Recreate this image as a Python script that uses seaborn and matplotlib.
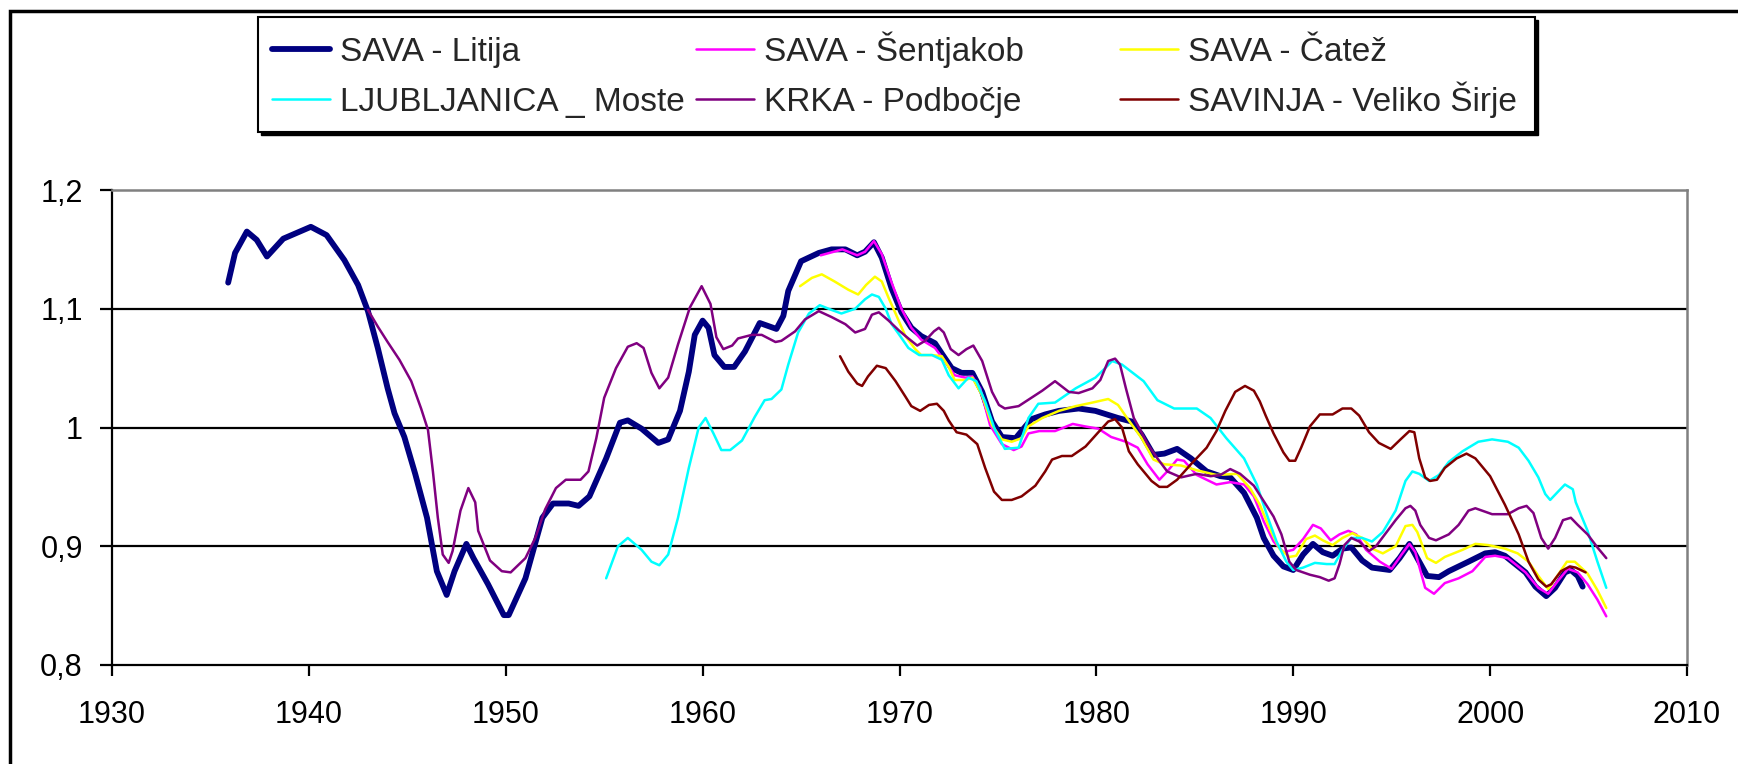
import numpy as np
import pandas as pd
import seaborn as sns
import matplotlib
matplotlib.use("Agg")
import matplotlib.pyplot as plt
from matplotlib.patches import Rectangle

# ---------------- data ----------------
litija_year = [1935.9, 1936.25, 1936.85, 1937.35, 1937.87, 1938.7, 1940.1, 1940.9, 1941.8, 1942.5,
               1943.0, 1943.5, 1944.0, 1944.35, 1944.85, 1945.4, 1946.0, 1946.5, 1947.0, 1947.4,
               1948.0, 1948.36, 1949.1, 1949.9, 1950.15, 1951.0, 1951.86, 1952.4, 1953.2, 1953.7,
               1954.25, 1955.1, 1955.8, 1956.2, 1956.9, 1957.75, 1958.25, 1958.85, 1959.3, 1959.6,
               1960.0, 1960.3, 1960.6, 1961.1, 1961.6, 1962.15, 1962.9, 1963.75, 1964.1, 1964.35,
               1965.0, 1965.9, 1966.55, 1967.25, 1967.85, 1968.25, 1968.7, 1969.1, 1969.6, 1970.1,
               1970.6, 1971.1, 1971.8, 1972.2, 1972.65, 1973.15, 1973.7, 1974.2, 1974.7, 1975.2,
               1975.9, 1976.2, 1976.7, 1977.4, 1978.1, 1979.1, 1979.95, 1981.1, 1981.8, 1982.3,
               1982.9, 1983.45, 1984.1, 1984.8, 1985.6, 1986.3, 1986.8, 1987.5, 1988.15, 1988.5,
               1989.0, 1989.5, 1990.0, 1990.5, 1991.0, 1991.5, 1992.0, 1992.5, 1992.95, 1993.5,
               1994.0, 1994.9, 1995.4, 1995.9, 1996.2, 1996.8, 1997.4, 1997.9, 1998.9, 1999.75,
               2000.25, 2000.75, 2001.8, 2002.3, 2002.85, 2003.3, 2003.8, 2004.1, 2004.45, 2004.7]
litija_val = [1.122, 1.147, 1.165, 1.158, 1.144, 1.159, 1.169, 1.162, 1.141, 1.120,
              1.098, 1.067, 1.033, 1.012, 0.992, 0.961, 0.924, 0.879, 0.859, 0.879,
              0.902, 0.890, 0.868, 0.842, 0.842, 0.873, 0.924, 0.936, 0.936, 0.934,
              0.942, 0.974, 1.004, 1.006, 0.999, 0.987, 0.990, 1.014, 1.047, 1.078,
              1.090, 1.084, 1.061, 1.051, 1.051, 1.064, 1.088, 1.083, 1.094, 1.115,
              1.140, 1.147, 1.150, 1.150, 1.145, 1.148, 1.156, 1.143, 1.117, 1.097,
              1.084, 1.077, 1.071, 1.061, 1.050, 1.046, 1.046, 1.030, 1.005, 0.992,
              0.991, 0.997, 1.007, 1.011, 1.014, 1.016, 1.014, 1.008, 1.005, 0.994,
              0.977, 0.978, 0.982, 0.974, 0.963, 0.959, 0.958, 0.945, 0.924, 0.907,
              0.892, 0.883, 0.880, 0.893, 0.902, 0.895, 0.892, 0.898, 0.899, 0.888,
              0.882, 0.880, 0.890, 0.902, 0.893, 0.875, 0.874, 0.879, 0.887, 0.894,
              0.895, 0.892, 0.878, 0.866, 0.858, 0.865, 0.878, 0.880, 0.875, 0.866]

sentjakob_year = [1966.0, 1967.1, 1967.85, 1968.25, 1968.7, 1969.1, 1969.6, 1970.1, 1970.6, 1971.1,
                  1971.8, 1972.3, 1972.8, 1973.35, 1973.7, 1974.1, 1974.6, 1975.2, 1975.8, 1976.2,
                  1976.55, 1977.1, 1977.9, 1978.8, 1979.4, 1980.1, 1980.75, 1981.5, 1982.1, 1982.6,
                  1983.2, 1983.6, 1984.1, 1984.45, 1985.1, 1986.1, 1986.8, 1987.5, 1988.0, 1988.5,
                  1989.0, 1989.5, 1990.0, 1990.5, 1991.0, 1991.4, 1991.9, 1992.35, 1992.8, 1993.2,
                  1993.7, 1994.4, 1995.0, 1995.5, 1995.9, 1996.2, 1996.7, 1997.15, 1997.7, 1998.4,
                  1999.1, 1999.75, 2000.25, 2000.9, 2001.8, 2002.45, 2002.95, 2003.45, 2003.95, 2004.45,
                  2004.95, 2005.45, 2005.9]
sentjakob_val = [1.145, 1.150, 1.145, 1.148, 1.157, 1.146, 1.122, 1.100, 1.084, 1.074,
                 1.067, 1.056, 1.044, 1.042, 1.043, 1.033, 1.002, 0.986, 0.981, 0.984,
                 0.995, 0.997, 0.997, 1.003, 1.001, 0.999, 0.992, 0.988, 0.983, 0.969,
                 0.956, 0.963, 0.973, 0.972, 0.960, 0.952, 0.954, 0.952, 0.942, 0.921,
                 0.904, 0.895, 0.897, 0.906, 0.918, 0.915, 0.905, 0.910, 0.913, 0.910,
                 0.897, 0.887, 0.881, 0.893, 0.902, 0.895, 0.865, 0.860, 0.869, 0.873,
                 0.879, 0.891, 0.892, 0.890, 0.878, 0.865, 0.860, 0.871, 0.881, 0.878,
                 0.868, 0.855, 0.841]

catez_year = [1964.95, 1965.55, 1966.05, 1966.7, 1967.4, 1967.9, 1968.3, 1968.75, 1969.1, 1969.45,
              1969.8, 1970.3, 1970.8, 1971.1, 1971.65, 1972.15, 1972.5, 1972.8, 1973.35, 1973.7,
              1974.2, 1974.7, 1975.2, 1975.7, 1976.2, 1976.55, 1977.25, 1978.1, 1978.95, 1979.8,
              1980.6, 1981.1, 1981.6, 1982.3, 1982.9, 1983.45, 1984.3, 1985.1, 1986.1, 1987.15,
              1987.8, 1988.3, 1988.8, 1989.3, 1989.8, 1990.15, 1990.65, 1991.1, 1991.5, 1992.0,
              1992.5, 1993.0, 1993.5, 1994.0, 1994.55, 1995.2, 1995.7, 1996.05, 1996.3, 1996.8,
              1997.25, 1997.7, 1998.6, 1999.25, 1999.9, 2000.75, 2001.4, 2001.95, 2002.45, 2002.95,
              2003.45, 2003.9, 2004.3, 2004.95, 2005.45, 2005.9]
catez_val = [1.119, 1.126, 1.129, 1.123, 1.116, 1.112, 1.120, 1.127, 1.123, 1.109,
             1.096, 1.077, 1.066, 1.061, 1.061, 1.060, 1.051, 1.040, 1.040, 1.042,
             1.027, 1.002, 0.990, 0.988, 0.991, 1.001, 1.008, 1.014, 1.018, 1.021,
             1.024, 1.019, 1.007, 0.991, 0.973, 0.969, 0.968, 0.964, 0.960, 0.961,
             0.949, 0.935, 0.915, 0.898, 0.891, 0.892, 0.906, 0.909, 0.905, 0.901,
             0.907, 0.911, 0.907, 0.898, 0.894, 0.900, 0.917, 0.918, 0.912, 0.890,
             0.886, 0.891, 0.897, 0.902, 0.901, 0.898, 0.894, 0.887, 0.875, 0.864,
             0.876, 0.887, 0.887, 0.877, 0.863, 0.848]

moste_year = [1955.1, 1955.7, 1956.2, 1956.9, 1957.4, 1957.8, 1958.25, 1958.75, 1959.3, 1959.8,
              1960.15, 1960.55, 1960.95, 1961.4, 1962.0, 1962.65, 1963.15, 1963.5, 1964.0, 1964.35,
              1964.85, 1965.4, 1965.95, 1966.55, 1967.05, 1967.75, 1968.25, 1968.6, 1968.95, 1969.3,
              1969.6, 1969.95, 1970.45, 1971.0, 1971.65, 1972.15, 1972.5, 1973.0, 1973.5, 1973.9,
              1974.35, 1974.85, 1975.35, 1976.05, 1976.55, 1977.05, 1977.9, 1978.95, 1979.95, 1980.45,
              1980.8, 1981.3, 1982.4, 1983.1, 1983.95, 1985.1, 1985.8, 1986.6, 1987.5, 1988.15,
              1988.65, 1989.15, 1989.65, 1990.0, 1990.5, 1991.1, 1991.7, 1992.1, 1992.5, 1992.95,
              1993.5, 1994.0, 1994.55, 1995.2, 1995.7, 1996.05, 1996.4, 1996.9, 1997.4, 1997.9,
              1998.6, 1999.4, 2000.1, 2000.9, 2001.45, 2001.95, 2002.45, 2002.8, 2003.05, 2003.45,
              2003.8, 2004.2, 2004.35, 2004.95, 2005.45, 2005.9]
moste_val = [0.873, 0.900, 0.907, 0.897, 0.887, 0.884, 0.893, 0.924, 0.966, 1.000,
             1.008, 0.995, 0.981, 0.981, 0.989, 1.009, 1.023, 1.024, 1.032, 1.053,
             1.080, 1.096, 1.103, 1.099, 1.096, 1.100, 1.108, 1.112, 1.110, 1.100,
             1.087, 1.079, 1.067, 1.061, 1.061, 1.057, 1.044, 1.033, 1.042, 1.039,
             1.022, 0.998, 0.982, 0.983, 1.008, 1.020, 1.021, 1.033, 1.042, 1.050,
             1.056, 1.053, 1.039, 1.023, 1.016, 1.016, 1.008, 0.991, 0.974, 0.952,
             0.927, 0.904, 0.887, 0.880, 0.882, 0.886, 0.885, 0.885, 0.897, 0.907,
             0.907, 0.904, 0.912, 0.930, 0.955, 0.963, 0.961, 0.955, 0.960, 0.971,
             0.980, 0.988, 0.990, 0.988, 0.983, 0.972, 0.958, 0.944, 0.939, 0.946,
             0.952, 0.948, 0.937, 0.913, 0.887, 0.865]

podbocje_year = [1943.0, 1943.5, 1944.0, 1944.6, 1945.2, 1945.7, 1946.05, 1946.3, 1946.55, 1946.8,
                 1947.1, 1947.3, 1947.7, 1948.1, 1948.45, 1948.6, 1949.2, 1949.8, 1950.25, 1951.0,
                 1951.5, 1952.0, 1952.55, 1953.05, 1953.8, 1954.2, 1954.6, 1955.0, 1955.6, 1956.2,
                 1956.65, 1957.0, 1957.4, 1957.8, 1958.25, 1958.75, 1959.35, 1959.95, 1960.4, 1960.7,
                 1961.05, 1961.5, 1961.8, 1962.5, 1963.0, 1963.7, 1964.0, 1964.7, 1965.2, 1965.9,
                 1966.55, 1967.25, 1967.75, 1968.25, 1968.6, 1968.95, 1969.45, 1969.95, 1970.45, 1970.9,
                 1971.3, 1971.75, 1972.0, 1972.25, 1972.6, 1973.0, 1973.4, 1973.75, 1974.2, 1974.7,
                 1975.05, 1975.35, 1976.05, 1976.7, 1977.25, 1977.9, 1978.6, 1979.1, 1979.8, 1980.2,
                 1980.6, 1980.95, 1981.2, 1981.5, 1981.9, 1982.1, 1982.6, 1983.1, 1983.6, 1984.3,
                 1985.1, 1985.8, 1986.3, 1986.8, 1987.3, 1988.0, 1988.5, 1989.0, 1989.4, 1989.8,
                 1990.15, 1990.85, 1991.35, 1991.8, 1992.1, 1992.35, 1992.6, 1992.95, 1993.35, 1993.85,
                 1994.2, 1994.7, 1995.2, 1995.7, 1995.95, 1996.2, 1996.45, 1996.9, 1997.25, 1997.9,
                 1998.4, 1998.9, 1999.25, 2000.1, 2000.9, 2001.45, 2001.85, 2002.2, 2002.6, 2002.95,
                 2003.3, 2003.7, 2004.1, 2004.45, 2004.95, 2005.45, 2005.9]
podbocje_val = [1.099, 1.085, 1.072, 1.057, 1.039, 1.016, 0.998, 0.963, 0.924, 0.893,
                0.886, 0.896, 0.930, 0.949, 0.937, 0.913, 0.888, 0.879, 0.878, 0.890,
                0.907, 0.931, 0.949, 0.956, 0.956, 0.963, 0.991, 1.025, 1.050, 1.068,
                1.071, 1.067, 1.046, 1.033, 1.042, 1.070, 1.101, 1.119, 1.104, 1.076,
                1.066, 1.069, 1.075, 1.078, 1.078, 1.072, 1.073, 1.081, 1.091, 1.098,
                1.093, 1.087, 1.080, 1.083, 1.095, 1.097, 1.090, 1.082, 1.075, 1.069,
                1.073, 1.081, 1.084, 1.080, 1.066, 1.061, 1.066, 1.069, 1.056, 1.030,
                1.019, 1.016, 1.018, 1.025, 1.031, 1.039, 1.030, 1.029, 1.033, 1.040,
                1.056, 1.058, 1.053, 1.033, 1.008, 1.002, 0.986, 0.974, 0.963, 0.958,
                0.961, 0.959, 0.960, 0.965, 0.961, 0.951, 0.938, 0.925, 0.910, 0.887,
                0.880, 0.876, 0.874, 0.871, 0.873, 0.885, 0.901, 0.907, 0.904, 0.896,
                0.900, 0.911, 0.922, 0.932, 0.934, 0.930, 0.918, 0.907, 0.905, 0.910,
                0.918, 0.930, 0.932, 0.927, 0.927, 0.932, 0.934, 0.928, 0.907, 0.898,
                0.907, 0.922, 0.924, 0.918, 0.910, 0.899, 0.890]

savinja_year = [1966.98, 1967.4, 1967.85, 1968.1, 1968.4, 1968.85, 1969.3, 1969.8, 1970.3, 1970.6,
                1971.05, 1971.5, 1971.9, 1972.25, 1972.5, 1972.9, 1973.4, 1973.95, 1974.35, 1974.8,
                1975.2, 1975.7, 1976.2, 1976.9, 1977.4, 1977.75, 1978.25, 1978.75, 1979.45, 1980.1,
                1980.6, 1980.95, 1981.3, 1981.65, 1982.1, 1982.8, 1983.2, 1983.6, 1984.1, 1984.8,
                1985.6, 1986.1, 1986.55, 1987.05, 1987.55, 1988.0, 1988.3, 1988.6, 1989.0, 1989.5,
                1989.8, 1990.1, 1990.4, 1990.85, 1991.35, 1992.0, 1992.5, 1992.95, 1993.35, 1993.85,
                1994.35, 1994.95, 1995.45, 1995.9, 1996.15, 1996.4, 1996.7, 1996.95, 1997.3, 1997.7,
                1998.3, 1998.8, 1999.25, 2000.0, 2000.75, 2001.45, 2001.95, 2002.45, 2002.85, 2003.1,
                2003.6, 2004.05, 2004.35, 2004.85]
savinja_val = [1.060, 1.047, 1.037, 1.035, 1.043, 1.052, 1.050, 1.039, 1.026, 1.018,
               1.014, 1.019, 1.020, 1.014, 1.006, 0.996, 0.994, 0.986, 0.966, 0.946,
               0.939, 0.939, 0.942, 0.951, 0.963, 0.973, 0.976, 0.976, 0.984, 0.996,
               1.005, 1.007, 1.000, 0.980, 0.969, 0.955, 0.950, 0.950, 0.956, 0.969,
               0.983, 0.997, 1.014, 1.030, 1.035, 1.031, 1.022, 1.010, 0.995, 0.979,
               0.972, 0.972, 0.983, 1.001, 1.011, 1.011, 1.016, 1.016, 1.010, 0.996,
               0.987, 0.982, 0.990, 0.997, 0.996, 0.974, 0.958, 0.955, 0.956, 0.966,
               0.974, 0.978, 0.974, 0.959, 0.935, 0.910, 0.887, 0.872, 0.866, 0.868,
               0.879, 0.883, 0.882, 0.878]

series_names = ["SAVA - Litija", "SAVA - Šentjakob", "SAVA - Čatež",
                "LJUBLJANICA _ Moste", "KRKA - Podbočje", "SAVINJA - Veliko Širje"]
series_colors = ["#000080", "#FF00FF", "#FFFF00", "#00FFFF", "#800080", "#800000"]
series_widths = [4.2, 1.8, 1.8, 1.8, 1.8, 1.8]

x_ticks = [1930, 1940, 1950, 1960, 1970, 1980, 1990, 2000, 2010]
y_ticks = [0.8, 0.9, 1.0, 1.1, 1.2]
y_tick_labels = ["0,8", "0,9", "1", "1,1", "1,2"]

series_data = [(litija_year, litija_val), (sentjakob_year, sentjakob_val),
               (catez_year, catez_val), (moste_year, moste_val),
               (podbocje_year, podbocje_val), (savinja_year, savinja_val)]

# ---------------- figure ----------------
sns.set_theme(style="white")
plt.rcParams["font.family"] = ["Liberation Sans", "DejaVu Sans"]

W, H = 1738, 764
fig = plt.figure(figsize=(W / 100, H / 100), dpi=100)
fig.patch.set_facecolor("white")

ax = fig.add_axes([112 / W, 1 - 665 / H, (1687 - 112) / W, (665 - 190) / H])
ax.set_facecolor("white")

lines = []
for name, color, lw, (xs, ys) in zip(series_names, series_colors, series_widths, series_data):
    df = pd.DataFrame({"year": xs, "value": ys})
    sns.lineplot(data=df, x="year", y="value", ax=ax, color=color, linewidth=lw,
                 estimator=None, sort=False, label=name, legend=False, zorder=3)
    ln = ax.get_lines()[-1]
    ln.set_solid_joinstyle("round")
    ln.set_solid_capstyle("round")
    lines.append(ln)

ax.set_xlim(1930, 2010)
ax.set_ylim(0.8, 1.2)
ax.set_xticks(x_ticks)
ax.set_xticklabels([str(t) for t in x_ticks])
ax.set_yticks(y_ticks)
ax.set_yticklabels(y_tick_labels)
ax.set_xlabel("")
ax.set_ylabel("")

ax.set_axisbelow(True)
ax.yaxis.grid(True, color="black", linewidth=1.6)
ax.xaxis.grid(False)
glines = ax.get_ygridlines()
glines[0].set_visible(False)
glines[-1].set_visible(False)

for side in ["left", "bottom"]:
    ax.spines[side].set_color("black")
    ax.spines[side].set_linewidth(1.6)
for side in ["top", "right"]:
    ax.spines[side].set_color("#808080")
    ax.spines[side].set_linewidth(1.8)

ax.tick_params(axis="x", direction="out", length=8, width=1.6, color="black",
               pad=17, labelsize=22, labelcolor="black", bottom=True)
ax.tick_params(axis="y", direction="out", length=9, width=1.6, color="black",
               pad=12, labelsize=22, labelcolor="black", left=True)

# ---------------- legend (three evenly spaced columns, two rows) ----------------
box_l, box_r, box_t, box_b = 258, 1535, 17, 132
shadow = Rectangle((box_l / W + 3 / W, 1 - (box_b + 3) / H), (box_r - box_l) / W, (box_b - box_t) / H,
                   transform=fig.transFigure, facecolor="black", edgecolor="black", zorder=1)
frame = Rectangle((box_l / W, 1 - box_b / H), (box_r - box_l) / W, (box_b - box_t) / H,
                  transform=fig.transFigure, facecolor="white", edgecolor="black",
                  linewidth=1.5, zorder=2)
fig.patches.extend([shadow, frame])

leg_fs = 24
col_x = [272, 696, 1120]
row_bottom = [68, 118]   # text-box bottom (descent line) of each row, px from top
for i in range(6):
    col, row = i % 3, i // 3
    leg = fig.legend([lines[i]], [series_names[i]], loc="lower left",
                     bbox_to_anchor=(col_x[col] / W, 1 - row_bottom[row] / H),
                     frameon=False, fontsize=leg_fs, handlelength=1.75, handletextpad=0.3,
                     borderpad=0, borderaxespad=0)
    leg.set_zorder(5)

# outer chart border (cropped at the right and bottom, as in the reference)
border = Rectangle((10 / W, -0.2), 1.2, 1.2 - 11 / H, transform=fig.transFigure,
                   fill=False, edgecolor="black", linewidth=2.5, zorder=10)
fig.patches.append(border)

fig.savefig("out.png", dpi=100, facecolor="white")
